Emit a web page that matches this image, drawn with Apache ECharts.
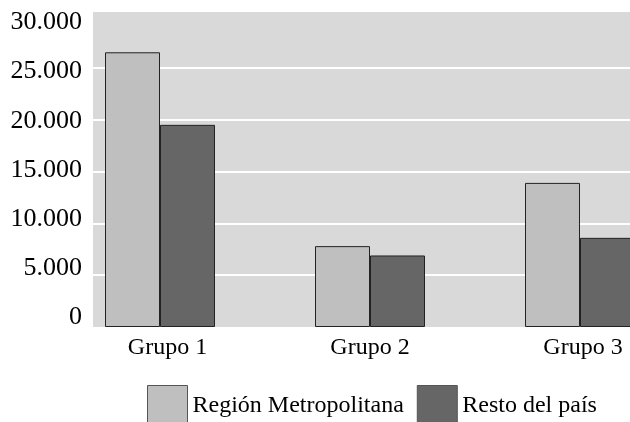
<!DOCTYPE html>
<html>
<head>
<meta charset="utf-8">
<script src="https://cdn.jsdelivr.net/npm/echarts@6/dist/echarts.min.js"></script>
<style>
html,body{margin:0;padding:0;background:#fff;}
#chart{width:630px;height:422px;}
</style>
</head>
<body>
<div id="chart"></div>
<script>
var categories = ['Grupo 1', 'Grupo 2', 'Grupo 3'];
var seriesNames = ['Región Metropolitana', 'Resto del país'];
var metropolitana = [26500, 7800, 13900];
var restoPais = [19500, 6900, 8600];
var yTickValues = [0, 5000, 10000, 15000, 20000, 25000, 30000];
var yTickLabels = ['0', '5.000', '10.000', '15.000', '20.000', '25.000', '30.000'];

var FONT = "'Liberation Serif', 'Times New Roman', serif";
var chart = echarts.init(document.getElementById('chart'), null, {renderer: 'canvas'});

function labelFor(v) {
  var i = yTickValues.indexOf(v);
  return i >= 0 ? yTickLabels[i] : '';
}

chart.setOption({
  animation: false,
  backgroundColor: '#ffffff',
  graphic: [{
    type: 'rect', z: -10, silent: true,
    shape: {x: 93, y: 12, width: 537, height: 315},
    style: {fill: '#d9d9d9'}
  }],
  grid: [
    {left: 93, right: 0, top: 16, bottom: 95, outerBoundsMode: 'none', containLabel: false},
    {left: 55, width: 630, top: 16, bottom: 95, outerBoundsMode: 'none', containLabel: false},
    {left: 93, right: 0, top: 22.5, bottom: 104.5, outerBoundsMode: 'none', containLabel: false}
  ],
  xAxis: [
    {gridIndex: 0, type: 'category', data: categories, show: false},
    {gridIndex: 1, type: 'category', data: categories,
      axisLine: {show: false}, axisTick: {show: false},
      axisLabel: {fontFamily: FONT, fontSize: 24, color: '#000', margin: 9, interval: 0,
        formatter: function (v, i) { return i === 0 ? '{p|' + v + '}' : (i === 2 ? '{q|' + v + '}' : v); },
        rich: {
          p: {fontFamily: FONT, fontSize: 24, color: '#000', padding: [0, 0, 0, 15]},
          q: {fontFamily: FONT, fontSize: 24, color: '#000', padding: [0, 0, 0, 6]}
        }}},
    {gridIndex: 2, type: 'category', data: categories, show: false}
  ],
  yAxis: [
    {gridIndex: 0, type: 'value', min: 0, max: 30000, interval: 5000,
      axisLine: {show: false}, axisTick: {show: false}, axisLabel: {show: false},
      splitLine: {show: true, lineStyle: {width: 2,
        color: ['rgba(0,0,0,0)', '#ffffff', '#ffffff', '#ffffff', '#ffffff', '#ffffff', 'rgba(0,0,0,0)']}}},
    {gridIndex: 1, type: 'value', min: 0, max: 30000, interval: 5000, show: false, splitLine: {show: false}},
    {gridIndex: 2, type: 'value', min: 0, max: 30000, interval: 5000,
      axisLine: {show: false}, axisTick: {show: false}, splitLine: {show: false},
      axisLabel: {fontFamily: FONT, fontSize: 26, color: '#000', margin: 11, formatter: labelFor}}
  ],
  legend: {
    left: 142, top: 380, itemWidth: 40, itemHeight: 40, itemGap: 13,
    icon: 'rect',
    data: seriesNames,
    itemStyle: {borderWidth: 1, borderColor: '#555'},
    textStyle: {fontFamily: FONT, fontSize: 24, color: '#000'}
  },
  series: [
    {name: seriesNames[0], type: 'bar', xAxisIndex: 1, yAxisIndex: 1, data: metropolitana,
      barWidth: 55, barGap: '0%',
      itemStyle: {color: '#bfbfbf', borderColor: '#222', borderWidth: 1}},
    {name: seriesNames[1], type: 'bar', xAxisIndex: 1, yAxisIndex: 1, data: restoPais,
      barWidth: 55, barGap: '0%',
      itemStyle: {color: '#666666', borderColor: '#222', borderWidth: 1}}
  ]
});
</script>
</body>
</html>
